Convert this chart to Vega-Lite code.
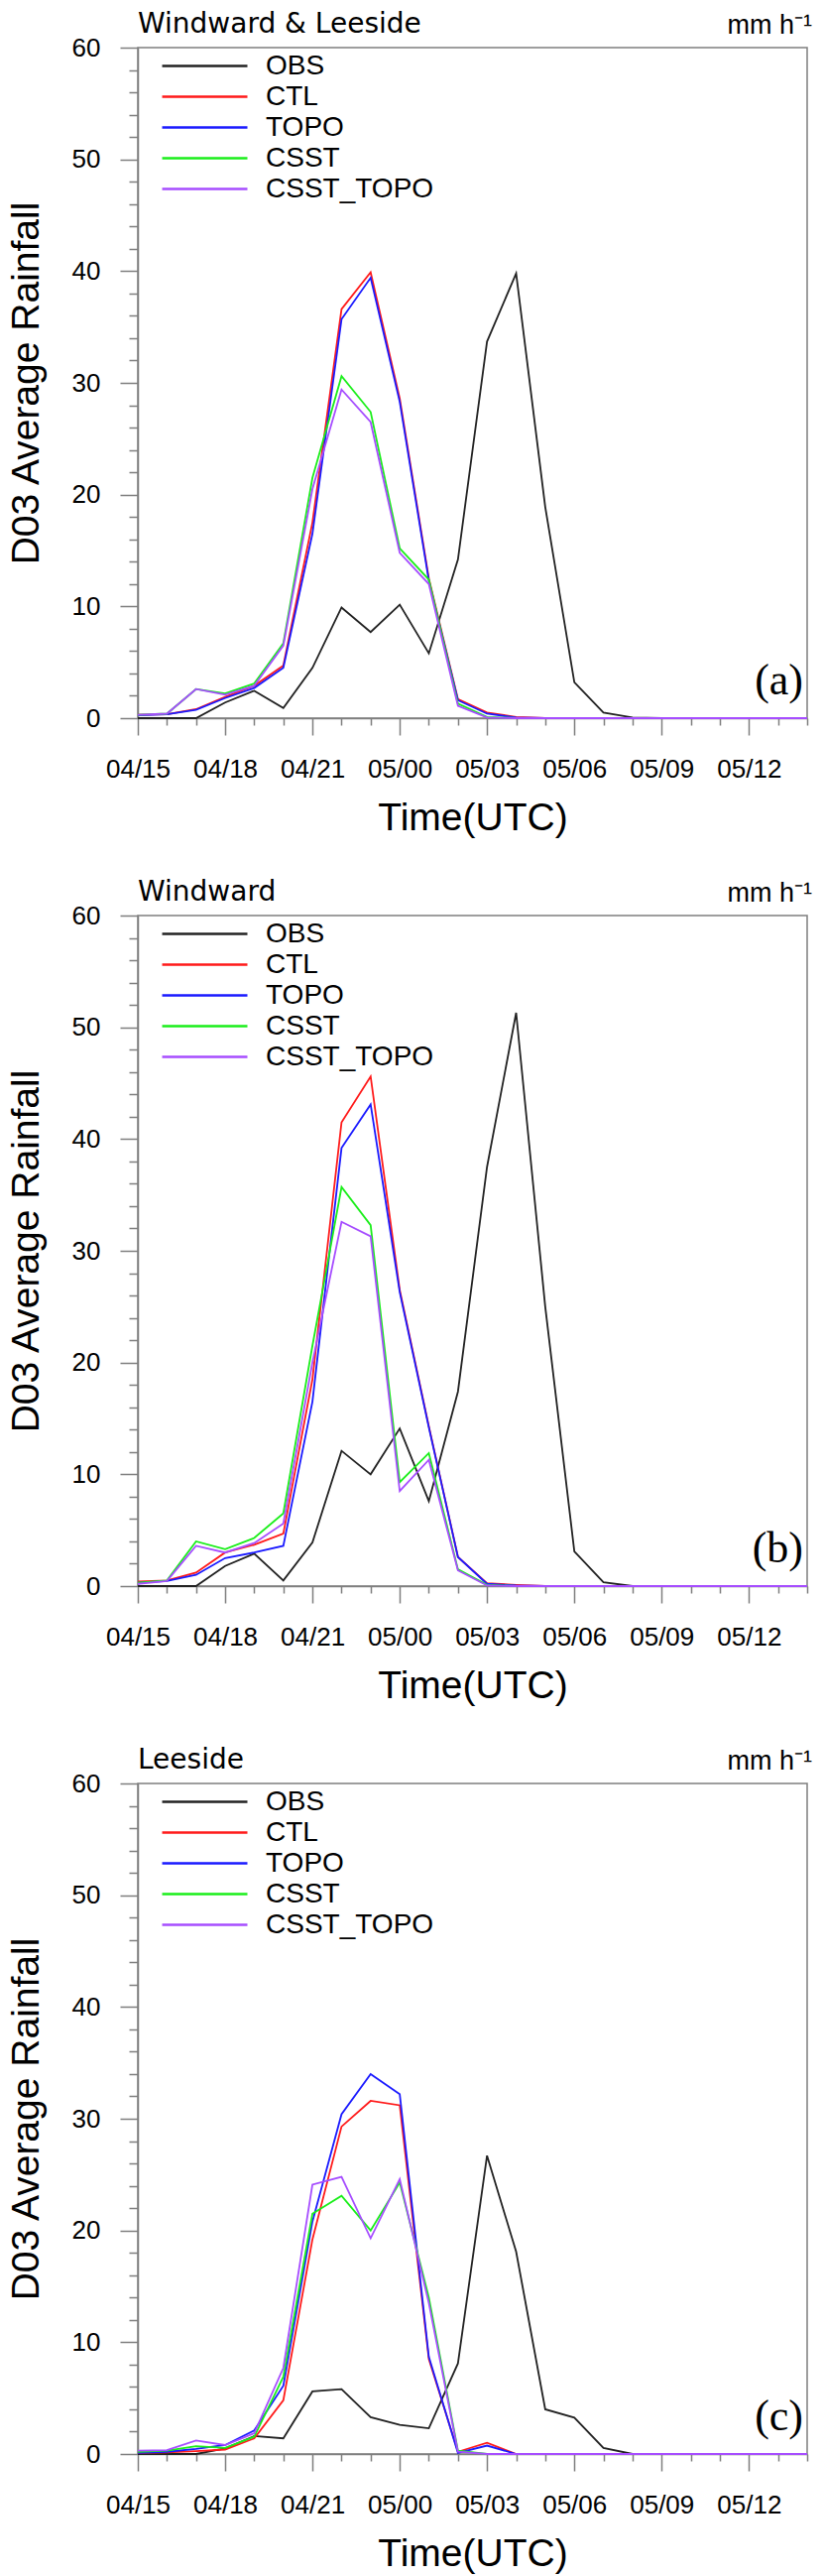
{
  "$schema": "https://vega.github.io/schema/vega-lite/v6.json",
  "padding": {"left": 6, "top": 10, "right": 0, "bottom": 0},
  "background": "white",
  "datasets": {
    "windward_leeside": [
      {"hour": 15, "OBS": 0, "CTL": 0.3, "TOPO": 0.25, "CSST": 0.3, "CSST_TOPO": 0.3},
      {"hour": 16, "OBS": 0, "CTL": 0.35, "TOPO": 0.35, "CSST": 0.4, "CSST_TOPO": 0.4},
      {"hour": 17, "OBS": 0, "CTL": 0.8, "TOPO": 0.75, "CSST": 2.6, "CSST_TOPO": 2.6},
      {"hour": 18, "OBS": 1.4, "CTL": 1.9, "TOPO": 1.8, "CSST": 2.2, "CSST_TOPO": 2.1},
      {"hour": 19, "OBS": 2.45, "CTL": 2.9, "TOPO": 2.7, "CSST": 3.1, "CSST_TOPO": 2.9},
      {"hour": 20, "OBS": 0.9, "CTL": 4.7, "TOPO": 4.5, "CSST": 6.7, "CSST_TOPO": 6.5},
      {"hour": 21, "OBS": 4.5, "CTL": 17.5, "TOPO": 16.5, "CSST": 21.5, "CSST_TOPO": 20.5},
      {"hour": 22, "OBS": 9.9, "CTL": 36.6, "TOPO": 35.7, "CSST": 30.6, "CSST_TOPO": 29.4},
      {"hour": 23, "OBS": 7.7, "CTL": 39.9, "TOPO": 39.4, "CSST": 27.4, "CSST_TOPO": 26.5},
      {"hour": 24, "OBS": 10.15, "CTL": 28.6, "TOPO": 28.3, "CSST": 15.2, "CSST_TOPO": 14.8},
      {"hour": 25, "OBS": 5.8, "CTL": 12.5, "TOPO": 12.3, "CSST": 12.4, "CSST_TOPO": 12.0},
      {"hour": 26, "OBS": 14.2, "CTL": 1.7, "TOPO": 1.6, "CSST": 1.3, "CSST_TOPO": 1.1},
      {"hour": 27, "OBS": 33.7, "CTL": 0.5, "TOPO": 0.4, "CSST": 0.1, "CSST_TOPO": 0.05},
      {"hour": 28, "OBS": 39.8, "CTL": 0.1, "TOPO": 0.05, "CSST": 0, "CSST_TOPO": 0},
      {"hour": 29, "OBS": 18.9, "CTL": 0, "TOPO": 0, "CSST": 0, "CSST_TOPO": 0},
      {"hour": 30, "OBS": 3.2, "CTL": 0, "TOPO": 0, "CSST": 0, "CSST_TOPO": 0},
      {"hour": 31, "OBS": 0.5, "CTL": 0, "TOPO": 0, "CSST": 0, "CSST_TOPO": 0},
      {"hour": 32, "OBS": 0.05, "CTL": 0, "TOPO": 0, "CSST": 0, "CSST_TOPO": 0},
      {"hour": 33, "OBS": 0, "CTL": 0, "TOPO": 0, "CSST": 0, "CSST_TOPO": 0},
      {"hour": 34, "OBS": 0, "CTL": 0, "TOPO": 0, "CSST": 0, "CSST_TOPO": 0},
      {"hour": 35, "OBS": 0, "CTL": 0, "TOPO": 0, "CSST": 0, "CSST_TOPO": 0},
      {"hour": 36, "OBS": 0, "CTL": 0, "TOPO": 0, "CSST": 0, "CSST_TOPO": 0},
      {"hour": 37, "OBS": 0, "CTL": 0, "TOPO": 0, "CSST": 0, "CSST_TOPO": 0},
      {"hour": 38, "OBS": 0, "CTL": 0, "TOPO": 0, "CSST": 0, "CSST_TOPO": 0}
    ],
    "windward": [
      {"hour": 15, "OBS": 0, "CTL": 0.4, "TOPO": 0.3, "CSST": 0.3, "CSST_TOPO": 0.2},
      {"hour": 16, "OBS": 0, "CTL": 0.5, "TOPO": 0.45, "CSST": 0.5, "CSST_TOPO": 0.45},
      {"hour": 17, "OBS": 0, "CTL": 1.2, "TOPO": 1.0, "CSST": 4.0, "CSST_TOPO": 3.6},
      {"hour": 18, "OBS": 1.8, "CTL": 3.0, "TOPO": 2.5, "CSST": 3.3, "CSST_TOPO": 3.0},
      {"hour": 19, "OBS": 2.9, "CTL": 3.7, "TOPO": 3.0, "CSST": 4.3, "CSST_TOPO": 3.85},
      {"hour": 20, "OBS": 0.5, "CTL": 4.7, "TOPO": 3.6, "CSST": 6.5, "CSST_TOPO": 5.6},
      {"hour": 21, "OBS": 3.9, "CTL": 18.5, "TOPO": 16.5, "CSST": 21.5, "CSST_TOPO": 20},
      {"hour": 22, "OBS": 12.1, "CTL": 41.5, "TOPO": 39.2, "CSST": 35.7, "CSST_TOPO": 32.6},
      {"hour": 23, "OBS": 10.0, "CTL": 45.6, "TOPO": 43.1, "CSST": 32.3, "CSST_TOPO": 31.3},
      {"hour": 24, "OBS": 14.1, "CTL": 26.5, "TOPO": 26.3, "CSST": 9.3, "CSST_TOPO": 8.5},
      {"hour": 25, "OBS": 7.6, "CTL": 14.3, "TOPO": 14.2, "CSST": 11.9, "CSST_TOPO": 11.3},
      {"hour": 26, "OBS": 17.4, "CTL": 2.6, "TOPO": 2.6, "CSST": 1.5, "CSST_TOPO": 1.4},
      {"hour": 27, "OBS": 37.5, "CTL": 0.25, "TOPO": 0.2, "CSST": 0.1, "CSST_TOPO": 0.05},
      {"hour": 28, "OBS": 51.3, "CTL": 0.1, "TOPO": 0.05, "CSST": 0, "CSST_TOPO": 0},
      {"hour": 29, "OBS": 25, "CTL": 0, "TOPO": 0, "CSST": 0, "CSST_TOPO": 0},
      {"hour": 30, "OBS": 3.1, "CTL": 0, "TOPO": 0, "CSST": 0, "CSST_TOPO": 0},
      {"hour": 31, "OBS": 0.35, "CTL": 0, "TOPO": 0, "CSST": 0, "CSST_TOPO": 0},
      {"hour": 32, "OBS": 0, "CTL": 0, "TOPO": 0, "CSST": 0, "CSST_TOPO": 0},
      {"hour": 33, "OBS": 0, "CTL": 0, "TOPO": 0, "CSST": 0, "CSST_TOPO": 0},
      {"hour": 34, "OBS": 0, "CTL": 0, "TOPO": 0, "CSST": 0, "CSST_TOPO": 0},
      {"hour": 35, "OBS": 0, "CTL": 0, "TOPO": 0, "CSST": 0, "CSST_TOPO": 0},
      {"hour": 36, "OBS": 0, "CTL": 0, "TOPO": 0, "CSST": 0, "CSST_TOPO": 0},
      {"hour": 37, "OBS": 0, "CTL": 0, "TOPO": 0, "CSST": 0, "CSST_TOPO": 0},
      {"hour": 38, "OBS": 0, "CTL": 0, "TOPO": 0, "CSST": 0, "CSST_TOPO": 0}
    ],
    "leeside": [
      {"hour": 15, "OBS": 0, "CTL": 0.1, "TOPO": 0.1, "CSST": 0.2, "CSST_TOPO": 0.3},
      {"hour": 16, "OBS": 0, "CTL": 0.15, "TOPO": 0.2, "CSST": 0.3, "CSST_TOPO": 0.35},
      {"hour": 17, "OBS": 0, "CTL": 0.25, "TOPO": 0.45, "CSST": 0.7, "CSST_TOPO": 1.2},
      {"hour": 18, "OBS": 0.5, "CTL": 0.4, "TOPO": 0.8, "CSST": 0.55, "CSST_TOPO": 0.8},
      {"hour": 19, "OBS": 1.6, "CTL": 1.4, "TOPO": 2.1, "CSST": 1.55, "CSST_TOPO": 1.85},
      {"hour": 20, "OBS": 1.4, "CTL": 4.8, "TOPO": 6.1, "CSST": 6.9, "CSST_TOPO": 7.7},
      {"hour": 21, "OBS": 5.6, "CTL": 19.2, "TOPO": 20.8, "CSST": 21.5, "CSST_TOPO": 24.1},
      {"hour": 22, "OBS": 5.8, "CTL": 29.3, "TOPO": 30.4, "CSST": 23.1, "CSST_TOPO": 24.8},
      {"hour": 23, "OBS": 3.3, "CTL": 31.6, "TOPO": 34.0, "CSST": 20.0, "CSST_TOPO": 19.3},
      {"hour": 24, "OBS": 2.6, "CTL": 31.2, "TOPO": 32.2, "CSST": 24.3, "CSST_TOPO": 24.6},
      {"hour": 25, "OBS": 2.3, "CTL": 8.5, "TOPO": 8.7, "CSST": 14, "CSST_TOPO": 13.5},
      {"hour": 26, "OBS": 8.1, "CTL": 0.2, "TOPO": 0.1, "CSST": 0.3, "CSST_TOPO": 0.2},
      {"hour": 27, "OBS": 26.7, "CTL": 1.0, "TOPO": 0.75, "CSST": 0, "CSST_TOPO": 0},
      {"hour": 28, "OBS": 18.1, "CTL": 0, "TOPO": 0, "CSST": 0, "CSST_TOPO": 0},
      {"hour": 29, "OBS": 4.0, "CTL": 0, "TOPO": 0, "CSST": 0, "CSST_TOPO": 0},
      {"hour": 30, "OBS": 3.25, "CTL": 0, "TOPO": 0, "CSST": 0, "CSST_TOPO": 0},
      {"hour": 31, "OBS": 0.55, "CTL": 0, "TOPO": 0, "CSST": 0, "CSST_TOPO": 0},
      {"hour": 32, "OBS": 0, "CTL": 0, "TOPO": 0, "CSST": 0, "CSST_TOPO": 0},
      {"hour": 33, "OBS": 0, "CTL": 0, "TOPO": 0, "CSST": 0, "CSST_TOPO": 0},
      {"hour": 34, "OBS": 0, "CTL": 0, "TOPO": 0, "CSST": 0, "CSST_TOPO": 0},
      {"hour": 35, "OBS": 0, "CTL": 0, "TOPO": 0, "CSST": 0, "CSST_TOPO": 0},
      {"hour": 36, "OBS": 0, "CTL": 0, "TOPO": 0, "CSST": 0, "CSST_TOPO": 0},
      {"hour": 37, "OBS": 0, "CTL": 0, "TOPO": 0, "CSST": 0, "CSST_TOPO": 0},
      {"hour": 38, "OBS": 0, "CTL": 0, "TOPO": 0, "CSST": 0, "CSST_TOPO": 0}
    ]
  },
  "vconcat": [
    {
      "width": 675, "height": 676,
      "resolve": {"axis": {"x": "independent", "y": "independent"}},
      "layer": [
        {
          "data": {"name": "windward_leeside"},
          "transform": [{"fold": ["OBS", "CTL", "TOPO", "CSST", "CSST_TOPO"], "as": ["run", "rain"]}],
          "mark": {"type": "line", "strokeWidth": 1.8},
          "encoding": {
            "x": {"field": "hour", "type": "quantitative", "scale": {"domain": [15, 38], "nice": false, "zero": false},
                  "axis": {"orient": "bottom", "values": [15, 18, 21, 24, 27, 30, 33, 36], "labelExpr": "'0' + (4 + floor(datum.value / 24)) + '/' + (datum.value % 24 < 10 ? '0' : '') + (datum.value % 24)", "tickSize": 17, "labelPadding": 21, "title": "Time(UTC)", "titlePadding": 17}},
            "y": {"field": "rain", "type": "quantitative", "scale": {"domain": [0, 60], "nice": false},
                  "axis": {"orient": "left", "values": [0, 10, 20, 30, 40, 50, 60], "tickSize": 18, "labelPadding": 20, "title": "D03 Average Rainfall", "titlePadding": 26}},
            "color": {"field": "run", "type": "nominal", "sort": ["OBS", "CTL", "TOPO", "CSST", "CSST_TOPO"],
                      "scale": {"domain": ["OBS", "CTL", "TOPO", "CSST", "CSST_TOPO"], "range": ["#222222", "#ff1a1a", "#1a1aff", "#1aee1a", "#a64dff"]}}
          }
        },
        {
          "data": {"values": [{"tag": "(a)"}]},
          "mark": {"type": "text", "align": "right", "baseline": "alphabetic", "dx": -4, "dy": -24, "font": "Liberation Serif", "fontSize": 44, "color": "#000"},
          "encoding": {
            "x": {"datum": 38, "type": "quantitative", "axis": {"orient": "bottom", "values": [16, 17, 19, 20, 22, 23, 25, 26, 28, 29, 31, 32, 34, 35, 37, 38], "tickSize": 7, "labels": false, "domain": false, "title": null}},
            "y": {"datum": 0, "type": "quantitative", "axis": {"orient": "left", "values": [2, 4, 6, 8, 12, 14, 16, 18, 22, 24, 26, 28, 32, 34, 36, 38, 42, 44, 46, 48, 52, 54, 56, 58], "tickSize": 9, "labels": false, "domain": false, "title": null}},
            "text": {"field": "tag"}
          }
        },
        {
          "data": {"values": [{"region": "Windward & Leeside"}]},
          "mark": {"type": "text", "align": "left", "baseline": "alphabetic", "dy": -15, "font": "DejaVu Sans", "fontSize": 28, "color": "#000"},
          "encoding": {
            "x": {"datum": 15, "type": "quantitative", "axis": null},
            "y": {"datum": 60, "type": "quantitative", "axis": null},
            "text": {"field": "region"}
          }
        },
        {
          "data": {"values": [{"unit": "mm h⁻¹"}]},
          "mark": {"type": "text", "align": "right", "baseline": "alphabetic", "dx": 5, "dy": -14, "fontSize": 27, "color": "#000"},
          "encoding": {
            "x": {"datum": 38, "type": "quantitative", "axis": null},
            "y": {"datum": 60, "type": "quantitative", "axis": null},
            "text": {"field": "unit"}
          }
        }
      ]
    },
    {
      "width": 675, "height": 676,
      "resolve": {"axis": {"x": "independent", "y": "independent"}},
      "layer": [
        {
          "data": {"name": "windward"},
          "transform": [{"fold": ["OBS", "CTL", "TOPO", "CSST", "CSST_TOPO"], "as": ["run", "rain"]}],
          "mark": {"type": "line", "strokeWidth": 1.8},
          "encoding": {
            "x": {"field": "hour", "type": "quantitative", "scale": {"domain": [15, 38], "nice": false, "zero": false},
                  "axis": {"orient": "bottom", "values": [15, 18, 21, 24, 27, 30, 33, 36], "labelExpr": "'0' + (4 + floor(datum.value / 24)) + '/' + (datum.value % 24 < 10 ? '0' : '') + (datum.value % 24)", "tickSize": 17, "labelPadding": 21, "title": "Time(UTC)", "titlePadding": 17}},
            "y": {"field": "rain", "type": "quantitative", "scale": {"domain": [0, 60], "nice": false},
                  "axis": {"orient": "left", "values": [0, 10, 20, 30, 40, 50, 60], "tickSize": 18, "labelPadding": 20, "title": "D03 Average Rainfall", "titlePadding": 26}},
            "color": {"field": "run", "type": "nominal", "sort": ["OBS", "CTL", "TOPO", "CSST", "CSST_TOPO"],
                      "scale": {"domain": ["OBS", "CTL", "TOPO", "CSST", "CSST_TOPO"], "range": ["#222222", "#ff1a1a", "#1a1aff", "#1aee1a", "#a64dff"]}}
          }
        },
        {
          "data": {"values": [{"tag": "(b)"}]},
          "mark": {"type": "text", "align": "right", "baseline": "alphabetic", "dx": -4, "dy": -24, "font": "Liberation Serif", "fontSize": 44, "color": "#000"},
          "encoding": {
            "x": {"datum": 38, "type": "quantitative", "axis": {"orient": "bottom", "values": [16, 17, 19, 20, 22, 23, 25, 26, 28, 29, 31, 32, 34, 35, 37, 38], "tickSize": 7, "labels": false, "domain": false, "title": null}},
            "y": {"datum": 0, "type": "quantitative", "axis": {"orient": "left", "values": [2, 4, 6, 8, 12, 14, 16, 18, 22, 24, 26, 28, 32, 34, 36, 38, 42, 44, 46, 48, 52, 54, 56, 58], "tickSize": 9, "labels": false, "domain": false, "title": null}},
            "text": {"field": "tag"}
          }
        },
        {
          "data": {"values": [{"region": "Windward"}]},
          "mark": {"type": "text", "align": "left", "baseline": "alphabetic", "dy": -15, "font": "DejaVu Sans", "fontSize": 28, "color": "#000"},
          "encoding": {
            "x": {"datum": 15, "type": "quantitative", "axis": null},
            "y": {"datum": 60, "type": "quantitative", "axis": null},
            "text": {"field": "region"}
          }
        },
        {
          "data": {"values": [{"unit": "mm h⁻¹"}]},
          "mark": {"type": "text", "align": "right", "baseline": "alphabetic", "dx": 5, "dy": -14, "fontSize": 27, "color": "#000"},
          "encoding": {
            "x": {"datum": 38, "type": "quantitative", "axis": null},
            "y": {"datum": 60, "type": "quantitative", "axis": null},
            "text": {"field": "unit"}
          }
        }
      ]
    },
    {
      "width": 675, "height": 676,
      "resolve": {"axis": {"x": "independent", "y": "independent"}},
      "layer": [
        {
          "data": {"name": "leeside"},
          "transform": [{"fold": ["OBS", "CTL", "TOPO", "CSST", "CSST_TOPO"], "as": ["run", "rain"]}],
          "mark": {"type": "line", "strokeWidth": 1.8},
          "encoding": {
            "x": {"field": "hour", "type": "quantitative", "scale": {"domain": [15, 38], "nice": false, "zero": false},
                  "axis": {"orient": "bottom", "values": [15, 18, 21, 24, 27, 30, 33, 36], "labelExpr": "'0' + (4 + floor(datum.value / 24)) + '/' + (datum.value % 24 < 10 ? '0' : '') + (datum.value % 24)", "tickSize": 17, "labelPadding": 21, "title": "Time(UTC)", "titlePadding": 17}},
            "y": {"field": "rain", "type": "quantitative", "scale": {"domain": [0, 60], "nice": false},
                  "axis": {"orient": "left", "values": [0, 10, 20, 30, 40, 50, 60], "tickSize": 18, "labelPadding": 20, "title": "D03 Average Rainfall", "titlePadding": 26}},
            "color": {"field": "run", "type": "nominal", "sort": ["OBS", "CTL", "TOPO", "CSST", "CSST_TOPO"],
                      "scale": {"domain": ["OBS", "CTL", "TOPO", "CSST", "CSST_TOPO"], "range": ["#222222", "#ff1a1a", "#1a1aff", "#1aee1a", "#a64dff"]}}
          }
        },
        {
          "data": {"values": [{"tag": "(c)"}]},
          "mark": {"type": "text", "align": "right", "baseline": "alphabetic", "dx": -4, "dy": -24, "font": "Liberation Serif", "fontSize": 44, "color": "#000"},
          "encoding": {
            "x": {"datum": 38, "type": "quantitative", "axis": {"orient": "bottom", "values": [16, 17, 19, 20, 22, 23, 25, 26, 28, 29, 31, 32, 34, 35, 37, 38], "tickSize": 7, "labels": false, "domain": false, "title": null}},
            "y": {"datum": 0, "type": "quantitative", "axis": {"orient": "left", "values": [2, 4, 6, 8, 12, 14, 16, 18, 22, 24, 26, 28, 32, 34, 36, 38, 42, 44, 46, 48, 52, 54, 56, 58], "tickSize": 9, "labels": false, "domain": false, "title": null}},
            "text": {"field": "tag"}
          }
        },
        {
          "data": {"values": [{"region": "Leeside"}]},
          "mark": {"type": "text", "align": "left", "baseline": "alphabetic", "dy": -15, "font": "DejaVu Sans", "fontSize": 28, "color": "#000"},
          "encoding": {
            "x": {"datum": 15, "type": "quantitative", "axis": null},
            "y": {"datum": 60, "type": "quantitative", "axis": null},
            "text": {"field": "region"}
          }
        },
        {
          "data": {"values": [{"unit": "mm h⁻¹"}]},
          "mark": {"type": "text", "align": "right", "baseline": "alphabetic", "dx": 5, "dy": -14, "fontSize": 27, "color": "#000"},
          "encoding": {
            "x": {"datum": 38, "type": "quantitative", "axis": null},
            "y": {"datum": 60, "type": "quantitative", "axis": null},
            "text": {"field": "unit"}
          }
        }
      ]
    }
  ],
  "spacing": 40,
  "resolve": {"scale": {"color": "independent"}, "legend": {"color": "independent"}},
  "config": {
    "font": "Liberation Sans",
    "view": {"stroke": "#7f7f7f", "strokeWidth": 1.5},
    "axis": {"domainColor": "#7f7f7f", "domainWidth": 1.5, "tickColor": "#7f7f7f", "tickWidth": 1.5, "labelColor": "#000", "titleColor": "#000", "labelFont": "Liberation Sans", "titleFont": "Liberation Sans", "titleFontWeight": "normal", "grid": false, "labelFontSize": 26, "titleFontSize": 39, "labelFlush": false, "labelOverlap": false},
    "legend": {"orient": "none", "legendX": 94, "legendY": 2, "title": null, "symbolType": "M-5.73,0H0", "symbolSize": 900, "symbolStrokeWidth": 2.5, "labelFontSize": 28, "labelFont": "Liberation Sans", "labelColor": "#000", "labelOffset": 2, "rowPadding": 0, "padding": 0, "labelLimit": 400}
  }
}
